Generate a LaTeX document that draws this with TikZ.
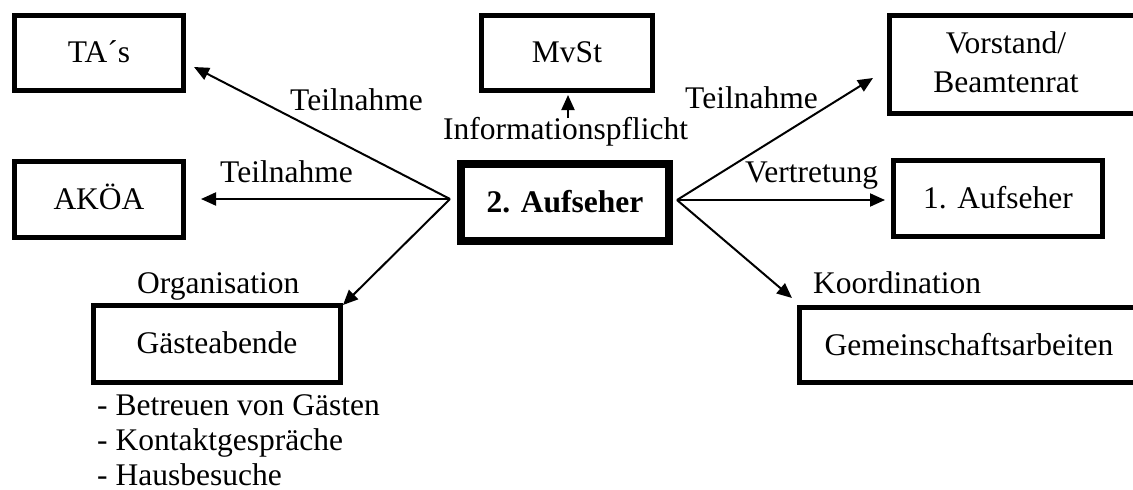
\documentclass[tikz,border=0pt]{standalone}
\usepackage{fontspec}
\setmainfont{Liberation Serif}
\usetikzlibrary{arrows.meta}
\begin{document}
\begin{tikzpicture}[x=1pt,y=-1pt,
  every node/.style={font=\fontsize{31.5}{38}\selectfont},
  box/.style={draw, line width=5pt, inner sep=0pt, text height=19pt, text depth=0pt},
  hubbox/.style={draw, line width=8pt, inner sep=0pt, text height=19pt, text depth=0pt},
  lbl/.style={anchor=base west, inner sep=0pt},
  txt/.style={anchor=base, inner sep=0pt},
  link/.style={line width=2pt, -{Triangle[length=15pt,width=13pt]}}]
\useasboundingbox (0,0) rectangle (1133,490);
\clip (0,0) rectangle (1133,490);

% boxes
\node[box, minimum width=169pt, minimum height=75pt] (tas) at (99,53) {TA´s};
\node[box, minimum width=169pt, minimum height=76pt] (akoea) at (99,199.5) {AKÖA};
\node[box, minimum width=171pt, minimum height=75pt] (mvst) at (567,53) {MvSt};
\node[hubbox, minimum width=208pt, minimum height=77pt] (auf2) at (565,202.5) {\bfseries 2. Aufseher};
\node[box, minimum width=260pt, minimum height=98pt] (vorstand) at (1019.5,64.5) {};
\node[txt] (vorstandA) at (1006,53) {Vorstand/};
\node[txt] (vorstandB) at (1006,92) {Beamtenrat};
\node[box, minimum width=209pt, minimum height=76pt] (auf1) at (998,198.5) {1. Aufseher};
\node[box, minimum width=350pt, minimum height=75pt] (gemein) at (974.5,345) {};
\node[txt] (gemeinT) at (969,355) {Gemeinschaftsarbeiten};
\node[box, minimum width=247pt, minimum height=77pt] (gaeste) at (217,344) {Gästeabende};

% connector end points
\coordinate (hl) at (450,199);
\coordinate (hr) at (677,200);
\coordinate (tasT) at (194,67);
\coordinate (akoeaT) at (201,199);
\coordinate (gaesteT) at (343,305);
\coordinate (mvstA) at (568,118);
\coordinate (mvstT) at (568,95);
\coordinate (vorstandT) at (873,78);
\coordinate (auf1T) at (885,200);
\coordinate (gemeinT2) at (792,298);

% connectors
\draw[link] (hl) -- (tasT);
\draw[link] (hl) -- (akoeaT);
\draw[link] (hl) -- (gaesteT);
\draw[link] (mvstA) -- (mvstT);
\draw[link] (hr) -- (vorstandT);
\draw[link] (hr) -- (auf1T);
\draw[link] (hr) -- (gemeinT2);

% connector labels
\node[lbl] (l1) at (290,110) {Teilnahme};
\node[lbl] (l2) at (220,182) {Teilnahme};
\node[lbl] (l3) at (443,139) {Informationspflicht};
\node[lbl] (l4) at (685,108) {Teilnahme};
\node[lbl] (l5) at (745,182) {Vertretung};
\node[lbl] (l6) at (813,293) {Koordination};
\node[lbl] (l7) at (137,293) {Organisation};

% task list
\node[lbl] (g1) at (97,415) {- Betreuen von Gästen};
\node[lbl] (g2) at (97,450.5) {- Kontaktgespräche};
\node[lbl] (g3) at (97,485.5) {- Hausbesuche};
\end{tikzpicture}
\end{document}
